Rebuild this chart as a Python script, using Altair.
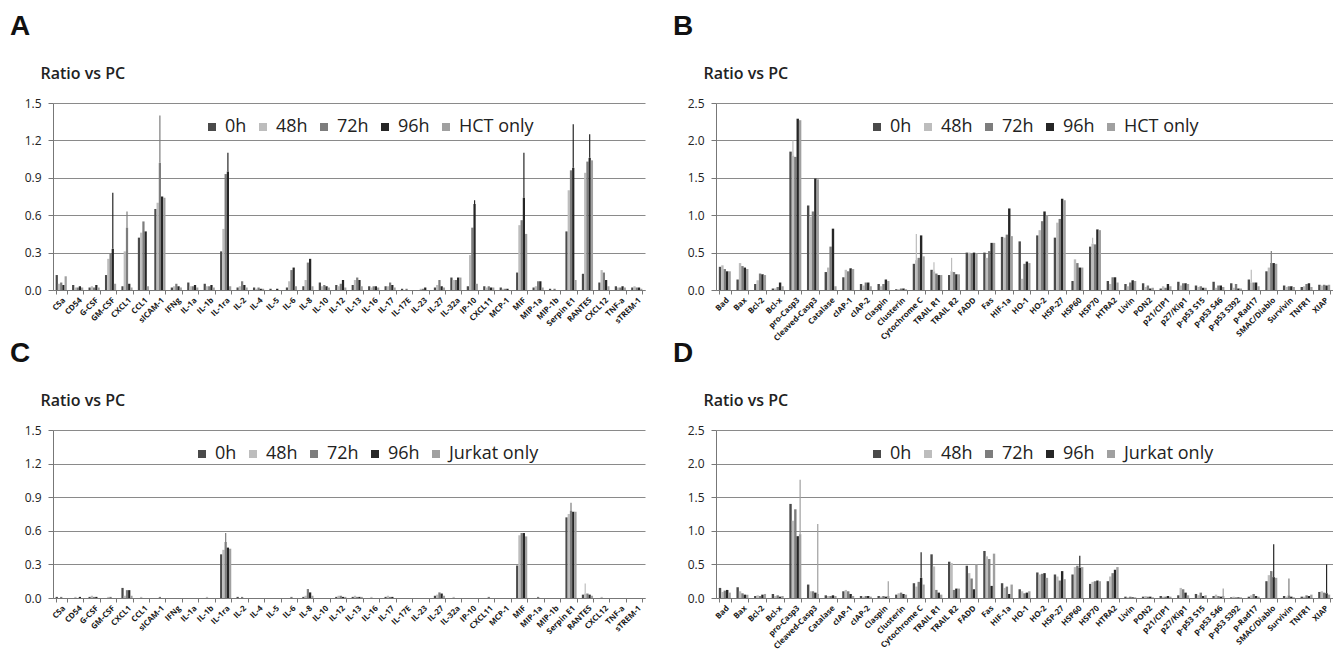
import altair as alt
import pandas as pd

series_hct = ["0h", "48h", "72h", "96h", "HCT only"]
series_jur = ["0h", "48h", "72h", "96h", "Jurkat only"]
colors = ["#4a4a4a", "#bdbdbd", "#7d7d7d", "#262626", "#a0a0a0"]

yticks_15 = [0.0, 0.3, 0.6, 0.9, 1.2, 1.5]
yticks_25 = [0.0, 0.5, 1.0, 1.5, 2.0, 2.5]

cyto = ["C5a", "CD54", "G-CSF", "GM-CSF", "CXCL1", "CCL1", "sICAM-1", "IFNg", "IL-1a", "IL-1b",
        "IL-1ra", "IL-2", "IL-4", "IL-5", "IL-6", "IL-8", "IL-10", "IL-12", "IL-13", "IL-16",
        "IL-17", "IL-17E", "IL-23", "IL-27", "IL-32a", "IP-10", "CXCL11", "MCP-1", "MIF", "MIP-1a",
        "MIP-1b", "Serpin E1", "RANTES", "CXCL12", "TNF-a", "sTREM-1"]

apop = ["Bad", "Bax", "Bcl-2", "Bcl-x", "pro-Casp3", "Cleaved-Casp3", "Catalase", "cIAP-1", "cIAP-2",
        "Claspin", "Clusterin", "Cytochrome C", "TRAIL R1", "TRAIL R2", "FADD", "Fas", "HIF-1a", "HO-1",
        "HO-2", "HSP-27", "HSP60", "HSP70", "HTRA2", "Livin", "PON2", "p21/CIP1", "p27/Kip1",
        "p-p53 S15", "p-p53 S46", "p-p53 S392", "p-Rad17", "SMAC/Diablo", "Survivin", "TNFR1", "XIAP"]

# Panel A (HCT, cytokines)
A_0h = [0.12, 0.04, 0.02, 0.12, 0.03, 0.42, 0.65, 0.02, 0.06, 0.05, 0.31, 0.02, 0.02, 0.01, 0.02, 0.03, 0.06, 0.04,
        0.04, 0.03, 0.03, 0.01, 0.00, 0.02, 0.10, 0.03, 0.03, 0.02, 0.14, 0.02, 0.01, 0.47, 0.13, 0.06, 0.03, 0.02]
A_48h = [0.05, 0.02, 0.03, 0.25, 0.31, 0.46, 0.70, 0.03, 0.03, 0.03, 0.49, 0.03, 0.01, 0.00, 0.07, 0.08, 0.03, 0.03,
         0.08, 0.02, 0.03, 0.00, 0.01, 0.04, 0.08, 0.28, 0.02, 0.01, 0.52, 0.03, 0.00, 0.80, 0.94, 0.16, 0.02, 0.03]
A_72h = [0.06, 0.02, 0.02, 0.29, 0.50, 0.55, 1.02, 0.05, 0.03, 0.03, 0.93, 0.07, 0.02, 0.00, 0.16, 0.22, 0.04, 0.05,
         0.10, 0.03, 0.06, 0.01, 0.01, 0.08, 0.08, 0.50, 0.03, 0.01, 0.56, 0.07, 0.01, 0.96, 1.03, 0.14, 0.02, 0.02]
A_96h = [0.04, 0.03, 0.04, 0.33, 0.05, 0.47, 0.75, 0.03, 0.04, 0.04, 0.95, 0.04, 0.01, 0.01, 0.18, 0.25, 0.03, 0.08,
         0.08, 0.03, 0.04, 0.00, 0.02, 0.03, 0.10, 0.69, 0.02, 0.01, 0.74, 0.07, 0.00, 0.98, 1.06, 0.08, 0.03, 0.02]
A_only = [0.11, 0.02, 0.02, 0.05, 0.02, 0.03, 0.74, 0.02, 0.02, 0.02, 0.03, 0.02, 0.01, 0.00, 0.03, 0.03, 0.02, 0.02,
          0.03, 0.02, 0.02, 0.00, 0.00, 0.02, 0.10, 0.05, 0.02, 0.00, 0.45, 0.02, 0.00, 0.08, 1.04, 0.03, 0.02, 0.01]
A_err = [("GM-CSF", "96h", 0.78), ("CXCL1", "72h", 0.63), ("sICAM-1", "72h", 1.40), ("IL-1ra", "96h", 1.10),
         ("IP-10", "96h", 0.72), ("MIF", "96h", 1.10), ("Serpin E1", "96h", 1.33), ("RANTES", "96h", 1.25)]

# Panel B (HCT, apoptosis)
B_0h = [0.31, 0.14, 0.08, 0.02, 1.85, 1.13, 0.24, 0.17, 0.08, 0.08, 0.01, 0.35, 0.27, 0.20, 0.50, 0.50, 0.71, 0.65,
        0.73, 0.70, 0.12, 0.58, 0.12, 0.08, 0.09, 0.02, 0.11, 0.06, 0.11, 0.09, 0.14, 0.25, 0.06, 0.04, 0.07]
B_48h = [0.33, 0.36, 0.13, 0.02, 1.80, 0.98, 0.30, 0.27, 0.06, 0.05, 0.01, 0.40, 0.25, 0.25, 0.50, 0.43, 0.70, 0.15,
         0.80, 0.90, 0.41, 0.62, 0.08, 0.05, 0.04, 0.05, 0.06, 0.04, 0.03, 0.03, 0.10, 0.30, 0.04, 0.05, 0.06]
B_72h = [0.28, 0.32, 0.22, 0.04, 1.78, 1.05, 0.58, 0.25, 0.10, 0.08, 0.02, 0.43, 0.22, 0.24, 0.48, 0.52, 0.74, 0.35,
         0.92, 0.95, 0.36, 0.61, 0.17, 0.10, 0.06, 0.03, 0.09, 0.05, 0.06, 0.08, 0.10, 0.36, 0.05, 0.08, 0.07]
B_96h = [0.25, 0.30, 0.21, 0.10, 2.29, 1.49, 0.82, 0.29, 0.10, 0.14, 0.02, 0.73, 0.20, 0.21, 0.50, 0.63, 1.09, 0.38,
         1.05, 1.22, 0.30, 0.81, 0.17, 0.13, 0.02, 0.08, 0.09, 0.03, 0.06, 0.02, 0.10, 0.36, 0.05, 0.09, 0.06]
B_only = [0.25, 0.28, 0.20, 0.05, 2.27, 1.48, 0.05, 0.28, 0.05, 0.12, 0.01, 0.45, 0.20, 0.21, 0.49, 0.63, 0.72, 0.36,
          1.00, 1.20, 0.30, 0.80, 0.10, 0.12, 0.03, 0.05, 0.08, 0.03, 0.04, 0.02, 0.05, 0.35, 0.04, 0.04, 0.07]
B_err = [("pro-Casp3", "48h", 2.00), ("Cytochrome C", "48h", 0.75), ("TRAIL R1", "48h", 0.37),
         ("TRAIL R2", "48h", 0.43), ("HSP70", "48h", 0.70), ("p-Rad17", "48h", 0.27), ("SMAC/Diablo", "72h", 0.52)]

# Panel C (Jurkat, cytokines)
C_0h = [0.01, 0.00, 0.01, 0.00, 0.09, 0.00, 0.00, 0.00, 0.00, 0.00, 0.39, 0.01, 0.00, 0.00, 0.00, 0.01, 0.00, 0.01,
        0.01, 0.00, 0.01, 0.00, 0.00, 0.02, 0.00, 0.00, 0.00, 0.00, 0.29, 0.00, 0.00, 0.72, 0.03, 0.00, 0.00, 0.00]
C_48h = [0.00, 0.01, 0.02, 0.01, 0.02, 0.01, 0.00, 0.00, 0.00, 0.01, 0.43, 0.00, 0.00, 0.00, 0.00, 0.02, 0.00, 0.02,
         0.02, 0.01, 0.02, 0.00, 0.00, 0.03, 0.01, 0.00, 0.00, 0.00, 0.56, 0.00, 0.00, 0.75, 0.04, 0.01, 0.00, 0.00]
C_72h = [0.01, 0.00, 0.01, 0.01, 0.07, 0.00, 0.01, 0.00, 0.00, 0.00, 0.50, 0.01, 0.00, 0.00, 0.01, 0.08, 0.00, 0.02,
         0.01, 0.00, 0.01, 0.00, 0.00, 0.05, 0.00, 0.00, 0.01, 0.00, 0.58, 0.01, 0.00, 0.78, 0.04, 0.00, 0.00, 0.00]
C_96h = [0.00, 0.01, 0.01, 0.00, 0.07, 0.00, 0.00, 0.00, 0.00, 0.00, 0.45, 0.00, 0.00, 0.00, 0.00, 0.05, 0.00, 0.01,
         0.01, 0.00, 0.01, 0.00, 0.00, 0.04, 0.00, 0.00, 0.00, 0.00, 0.58, 0.00, 0.00, 0.77, 0.03, 0.00, 0.00, 0.00]
C_only = [0.00, 0.00, 0.00, 0.00, 0.02, 0.00, 0.00, 0.00, 0.00, 0.00, 0.44, 0.00, 0.00, 0.00, 0.00, 0.02, 0.00, 0.01,
          0.01, 0.00, 0.00, 0.00, 0.00, 0.02, 0.00, 0.00, 0.00, 0.00, 0.55, 0.00, 0.00, 0.77, 0.02, 0.00, 0.00, 0.00]
C_err = [("IL-1ra", "72h", 0.58), ("Serpin E1", "72h", 0.85), ("RANTES", "48h", 0.13)]

# Panel D (Jurkat, apoptosis)
D_0h = [0.15, 0.16, 0.03, 0.06, 1.40, 0.20, 0.04, 0.10, 0.03, 0.03, 0.05, 0.22, 0.65, 0.54, 0.48, 0.70, 0.22, 0.13,
        0.38, 0.35, 0.35, 0.21, 0.25, 0.02, 0.02, 0.03, 0.04, 0.06, 0.03, 0.01, 0.02, 0.25, 0.03, 0.02, 0.09]
D_48h = [0.09, 0.10, 0.04, 0.03, 1.15, 0.10, 0.03, 0.12, 0.02, 0.02, 0.07, 0.17, 0.47, 0.52, 0.37, 0.62, 0.15, 0.10,
         0.35, 0.32, 0.46, 0.24, 0.32, 0.01, 0.03, 0.02, 0.15, 0.04, 0.05, 0.02, 0.04, 0.34, 0.02, 0.02, 0.10]
D_72h = [0.11, 0.07, 0.03, 0.04, 1.32, 0.10, 0.03, 0.10, 0.03, 0.03, 0.08, 0.24, 0.12, 0.12, 0.29, 0.58, 0.17, 0.07,
         0.36, 0.26, 0.48, 0.25, 0.37, 0.02, 0.02, 0.02, 0.13, 0.08, 0.03, 0.01, 0.06, 0.40, 0.04, 0.04, 0.08]
D_96h = [0.12, 0.05, 0.05, 0.02, 0.92, 0.08, 0.04, 0.06, 0.03, 0.02, 0.06, 0.30, 0.08, 0.14, 0.13, 0.18, 0.06, 0.08,
         0.37, 0.40, 0.45, 0.26, 0.42, 0.01, 0.02, 0.03, 0.08, 0.03, 0.02, 0.01, 0.03, 0.31, 0.02, 0.03, 0.07]
D_only = [0.08, 0.05, 0.06, 0.03, 0.95, 0.06, 0.03, 0.03, 0.02, 0.03, 0.05, 0.20, 0.05, 0.14, 0.50, 0.66, 0.20, 0.10,
          0.30, 0.28, 0.46, 0.25, 0.46, 0.01, 0.01, 0.02, 0.04, 0.04, 0.03, 0.01, 0.02, 0.30, 0.01, 0.05, 0.05]
D_err = [("pro-Casp3", "Jurkat only", 1.76), ("Cleaved-Casp3", "Jurkat only", 1.10), ("Claspin", "Jurkat only", 0.25),
         ("Cytochrome C", "96h", 0.68), ("HSP60", "96h", 0.63), ("p-p53 S46", "Jurkat only", 0.14),
         ("SMAC/Diablo", "96h", 0.80), ("Survivin", "72h", 0.29), ("XIAP", "96h", 0.50)]

FONT = "Open Sans"


def long_df(cats, series, cols):
    rows = []
    for s, vals in zip(series, cols):
        for c, v in zip(cats, vals):
            rows.append({"cat": c, "series": s, "value": v})
    return pd.DataFrame(rows)


def err_df(errs, base):
    rows = []
    for c, s, top in errs:
        v = base[(base.cat == c) & (base.series == s)].value.iloc[0]
        rows.append({"cat": c, "series": s, "value": v, "top": top})
    return pd.DataFrame(rows)


def panel(letter, cats, series, cols, errs, yticks, width, height, legend_x):
    df = long_df(cats, series, cols)
    edf = err_df(errs, df)
    ymax = yticks[-1]
    xscale = alt.Scale(domain=cats, paddingInner=0.32, paddingOuter=0.16)
    xaxis = alt.Axis(title=None, labelAngle=-45, labelFontSize=8, labelFontWeight="bold", labelFont=FONT,
                     labelColor="#1a1a1a", labelPadding=2, tickBand="extent", tickSize=4, tickColor="#777777",
                     domainColor="#777777", grid=False, labelOverlap=False)
    oscale = alt.Scale(domain=series, paddingInner=0, paddingOuter=0)
    yaxis = alt.Axis(values=yticks, tickCount=20, format=".1f", title="Ratio vs PC", titleAngle=0,
                     titleAlign="left", titleBaseline="middle", titleX=-13, titleY=-30, titleFontSize=16,
                     titleFontWeight=600, titleFont=FONT, titleColor="#222222", labelFontSize=12, labelFont=FONT,
                     labelColor="#222222", labelPadding=7, tickSize=5, tickColor="#777777",
                     domainColor="#777777", gridColor="#8a8a8a", gridWidth=1, labelOverlap=False)
    yscale = alt.Scale(domain=[0, ymax], nice=False)
    color = alt.Color("series:N", sort=series, scale=alt.Scale(domain=series, range=colors),
                      legend=alt.Legend(title=None, orient="none", legendX=legend_x, legendY=15,
                                        direction="horizontal", columns=5, symbolType="square", symbolSize=64,
                                        symbolStrokeWidth=0, labelFontSize=18, labelFont=FONT,
                                        labelColor="#222222", columnPadding=7, labelOffset=4))
    bars = alt.Chart(df).mark_bar().encode(
        x=alt.X("cat:N", sort=cats, scale=xscale, axis=xaxis),
        xOffset=alt.XOffset("series:N", sort=series, scale=oscale),
        y=alt.Y("value:Q", scale=yscale, axis=yaxis),
        color=color,
    )
    rules = alt.Chart(edf).mark_rule(strokeWidth=1.2).encode(
        x=alt.X("cat:N", sort=cats),
        xOffset=alt.XOffset("series:N", sort=series),
        y=alt.Y("value:Q"),
        y2="top:Q",
        color=alt.Color("series:N", sort=series, legend=None),
    )
    return alt.layer(bars, rules).properties(
        width=width, height=height,
        title=alt.TitleParams(letter, anchor="start", frame="group", dx=-43, fontSize=28, fontWeight="bold",
                              font="Liberation Sans", color="#111111", offset=24),
    )


pA = panel("A", cyto, series_hct, [A_0h, A_48h, A_72h, A_96h, A_only], A_err, yticks_15, 592, 187, 150)
pB = panel("B", apop, series_hct, [B_0h, B_48h, B_72h, B_96h, B_only], B_err, yticks_25, 617, 187, 152)
pC = panel("C", cyto, series_jur, [C_0h, C_48h, C_72h, C_96h, C_only], C_err, yticks_15, 592, 168, 140)
pD = panel("D", apop, series_jur, [D_0h, D_48h, D_72h, D_96h, D_only], D_err, yticks_25, 617, 168, 152)

res = dict(color="independent", x="independent", y="independent", xOffset="independent")
top = alt.hconcat(pA, pB, spacing=28).resolve_scale(**res)
bottom = alt.hconcat(pC, pD, spacing=28).resolve_scale(**res)
chart = alt.vconcat(top, bottom, spacing=-3).resolve_scale(**res).configure(
    padding={"left": 2, "top": 5, "right": 0, "bottom": 0},
    background="white",
).configure_view(stroke=None)

chart.save("out.html", embed_options={"renderer": "svg", "actions": False})
